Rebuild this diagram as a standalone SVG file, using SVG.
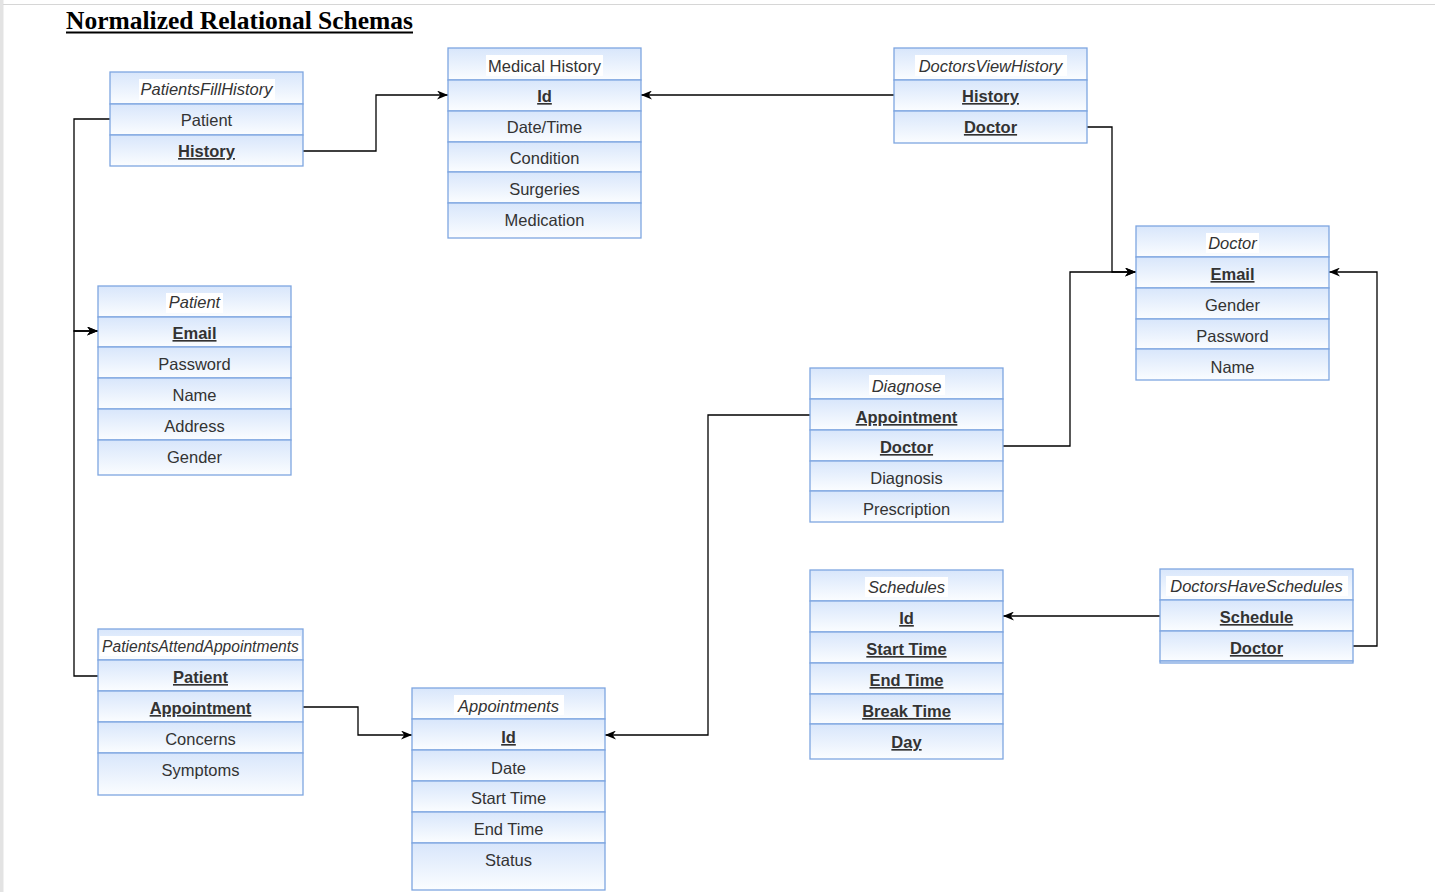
<svg xmlns="http://www.w3.org/2000/svg" width="1435" height="892" viewBox="0 0 1435 892">
<defs>
<linearGradient id="g" x1="0" y1="0" x2="0" y2="1">
<stop offset="0" stop-color="#d8e6fb"/>
<stop offset="1" stop-color="#fbfdff"/>
</linearGradient>
<marker id="arr" viewBox="0 0 11 9" refX="11" refY="4.5" markerWidth="11" markerHeight="9" markerUnits="userSpaceOnUse" orient="auto">
<path d="M0,0 L11,4.5 L0,9 L3.3,4.5 z" fill="#000"/>
</marker>
</defs>
<style>
.cell{fill:url(#g);stroke:#7ea6e0;stroke-width:1.3}
.hb{fill:#fff}
text{font-family:"Liberation Sans",Arial,sans-serif;font-size:16.5px;fill:#333;text-anchor:middle}
.h{font-style:italic}
.k{font-weight:bold;text-decoration:underline}
.c{fill:none;stroke:#000;stroke-width:1.3}
.a{marker-end:url(#arr)}
.title{font-family:"Liberation Serif","Times New Roman",serif;font-size:25.5px;font-weight:bold;fill:#000;text-anchor:start}
</style>
<rect x="0" y="0" width="1435" height="892" fill="#fff"/>
<rect x="0" y="0" width="3.5" height="892" fill="#e3e3e3"/>
<line x1="3" y1="4.5" x2="1435" y2="4.5" stroke="#d6d6d6" stroke-width="1"/>
<g id="title">
<text class="title" x="66" y="29">Normalized Relational Schemas</text>
<rect x="66" y="31.5" width="347" height="2" fill="#000"/>
</g>

<g id="connectors">
<path class="c a" d="M303,151 H376 V95 H448"/>
<path class="c a" d="M894,95 H641"/>
<path class="c a" d="M1087,127 H1112 V272 H1136"/>
<path class="c a" d="M1003,446 H1070 V272 H1136"/>
<path class="c a" d="M1353,646 H1377 V272 H1329"/>
<path class="c a" d="M1160,616 H1003"/>
<path class="c a" d="M110,119 H74 V331 H98"/>
<path class="c a" d="M98,676 H74 V331 H98"/>
<path class="c a" d="M303,707 H358 V735 H412"/>
<path class="c a" d="M810,415 H708 V735 H605"/>
</g>

<g id="PatientsFillHistory">
<rect class="cell" x="110" y="72" width="193" height="32"/>
<rect class="cell" x="110" y="104" width="193" height="31"/>
<rect class="cell" x="110" y="135" width="193" height="31"/>
<rect class="hb" x="139" y="79" width="136" height="21"/>
<text class="h" x="206.5" y="95">PatientsFillHistory</text>
<text x="206.5" y="126">Patient</text>
<text class="k" x="206.5" y="157">History</text>
</g>

<g id="MedicalHistory">
<rect class="cell" x="448" y="48" width="193" height="32"/>
<rect class="cell" x="448" y="80" width="193" height="31"/>
<rect class="cell" x="448" y="111" width="193" height="31"/>
<rect class="cell" x="448" y="142" width="193" height="30"/>
<rect class="cell" x="448" y="172" width="193" height="31"/>
<rect class="cell" x="448" y="203" width="193" height="35"/>
<rect class="hb" x="486" y="55" width="117" height="21"/>
<text x="544.5" y="72">Medical History</text>
<text class="k" x="544.5" y="102">Id</text>
<text x="544.5" y="133">Date/Time</text>
<text x="544.5" y="164">Condition</text>
<text x="544.5" y="195">Surgeries</text>
<text x="544.5" y="226">Medication</text>
</g>

<g id="DoctorsViewHistory">
<rect class="cell" x="894" y="48" width="193" height="32"/>
<rect class="cell" x="894" y="80" width="193" height="31"/>
<rect class="cell" x="894" y="111" width="193" height="32"/>
<rect class="hb" x="915" y="55" width="152" height="21"/>
<text class="h" x="990.5" y="72">DoctorsViewHistory</text>
<text class="k" x="990.5" y="102">History</text>
<text class="k" x="990.5" y="133">Doctor</text>
</g>

<g id="Doctor">
<rect class="cell" x="1136" y="226" width="193" height="31"/>
<rect class="cell" x="1136" y="257" width="193" height="31"/>
<rect class="cell" x="1136" y="288" width="193" height="31"/>
<rect class="cell" x="1136" y="319" width="193" height="30"/>
<rect class="cell" x="1136" y="349" width="193" height="31"/>
<rect class="hb" x="1206" y="233" width="53" height="20"/>
<text class="h" x="1232.5" y="249">Doctor</text>
<text class="k" x="1232.5" y="280">Email</text>
<text x="1232.5" y="311">Gender</text>
<text x="1232.5" y="342">Password</text>
<text x="1232.5" y="373">Name</text>
</g>

<g id="Patient">
<rect class="cell" x="98" y="286" width="193" height="31"/>
<rect class="cell" x="98" y="317" width="193" height="30"/>
<rect class="cell" x="98" y="347" width="193" height="31"/>
<rect class="cell" x="98" y="378" width="193" height="31"/>
<rect class="cell" x="98" y="409" width="193" height="31"/>
<rect class="cell" x="98" y="440" width="193" height="35"/>
<rect class="hb" x="166" y="293" width="57" height="20"/>
<text class="h" x="194.5" y="308">Patient</text>
<text class="k" x="194.5" y="339">Email</text>
<text x="194.5" y="370">Password</text>
<text x="194.5" y="401">Name</text>
<text x="194.5" y="432">Address</text>
<text x="194.5" y="463">Gender</text>
</g>

<g id="Diagnose">
<rect class="cell" x="810" y="368" width="193" height="31"/>
<rect class="cell" x="810" y="399" width="193" height="31"/>
<rect class="cell" x="810" y="430" width="193" height="31"/>
<rect class="cell" x="810" y="461" width="193" height="30"/>
<rect class="cell" x="810" y="491" width="193" height="31"/>
<rect class="hb" x="869" y="375" width="76" height="20"/>
<text class="h" x="906.5" y="392">Diagnose</text>
<text class="k" x="906.5" y="423">Appointment</text>
<text class="k" x="906.5" y="453">Doctor</text>
<text x="906.5" y="484">Diagnosis</text>
<text x="906.5" y="515">Prescription</text>
</g>

<g id="Schedules">
<rect class="cell" x="810" y="570" width="193" height="31"/>
<rect class="cell" x="810" y="601" width="193" height="31"/>
<rect class="cell" x="810" y="632" width="193" height="31"/>
<rect class="cell" x="810" y="663" width="193" height="31"/>
<rect class="cell" x="810" y="694" width="193" height="30"/>
<rect class="cell" x="810" y="724" width="193" height="35"/>
<rect class="hb" x="865" y="577" width="83" height="20"/>
<text class="h" x="906.5" y="593">Schedules</text>
<text class="k" x="906.5" y="624">Id</text>
<text class="k" x="906.5" y="655">Start Time</text>
<text class="k" x="906.5" y="686">End Time</text>
<text class="k" x="906.5" y="717">Break Time</text>
<text class="k" x="906.5" y="748">Day</text>
</g>

<g id="DoctorsHaveSchedules">
<rect class="cell" x="1160" y="569" width="193" height="31"/>
<rect class="cell" x="1160" y="600" width="193" height="31"/>
<rect class="cell" x="1160" y="631" width="193" height="30"/>
<rect class="cell" x="1160" y="661" width="193" height="2"/>
<rect class="hb" x="1166" y="576" width="182" height="20"/>
<text class="h" x="1256.5" y="592">DoctorsHaveSchedules</text>
<text class="k" x="1256.5" y="623">Schedule</text>
<text class="k" x="1256.5" y="654">Doctor</text>
</g>

<g id="PatientsAttendAppointments">
<rect class="cell" x="98" y="629" width="205" height="31"/>
<rect class="cell" x="98" y="660" width="205" height="31"/>
<rect class="cell" x="98" y="691" width="205" height="31"/>
<rect class="cell" x="98" y="722" width="205" height="31"/>
<rect class="cell" x="98" y="753" width="205" height="42"/>
<rect class="hb" x="100" y="636" width="201" height="20"/>
<text class="h" x="200.5" y="652" style="font-size:15.6px">PatientsAttendAppointments</text>
<text class="k" x="200.5" y="683">Patient</text>
<text class="k" x="200.5" y="714">Appointment</text>
<text x="200.5" y="745">Concerns</text>
<text x="200.5" y="776">Symptoms</text>
</g>

<g id="Appointments">
<rect class="cell" x="412" y="688" width="193" height="31"/>
<rect class="cell" x="412" y="719" width="193" height="31"/>
<rect class="cell" x="412" y="750" width="193" height="31"/>
<rect class="cell" x="412" y="781" width="193" height="31"/>
<rect class="cell" x="412" y="812" width="193" height="31"/>
<rect class="cell" x="412" y="843" width="193" height="47"/>
<rect class="hb" x="454" y="695" width="110" height="20"/>
<text class="h" x="508.5" y="712">Appointments</text>
<text class="k" x="508.5" y="743">Id</text>
<text x="508.5" y="774">Date</text>
<text x="508.5" y="804">Start Time</text>
<text x="508.5" y="835">End Time</text>
<text x="508.5" y="866">Status</text>
</g>
</svg>
